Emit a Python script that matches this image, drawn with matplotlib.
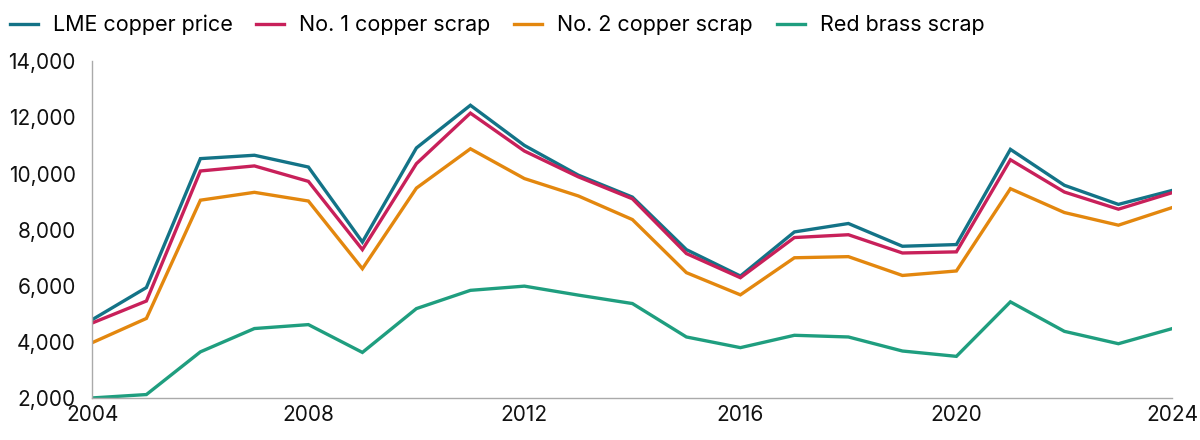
import matplotlib.pyplot as plt
from matplotlib.ticker import FuncFormatter

plt.rcParams['font.family'] = ['Inter', 'DejaVu Sans']

years = list(range(2004, 2025))
lme = [4800, 5940, 10530, 10650, 10230, 7560, 10910, 12430, 11000, 9940, 9160,
       7290, 6350, 7920, 8220, 7410, 7470, 10860, 9580, 8900, 9400]
no1 = [4680, 5460, 10090, 10270, 9720, 7290, 10350, 12150, 10800, 9880, 9100,
       7150, 6290, 7720, 7820, 7170, 7210, 10490, 9340, 8730, 9320]
no2 = [3980, 4840, 9050, 9330, 9020, 6610, 9480, 10880, 9820, 9200, 8360,
       6470, 5680, 7000, 7040, 6370, 6530, 9460, 8610, 8160, 8790]
brass = [2010, 2130, 3650, 4480, 4620, 3630, 5190, 5840, 5990, 5670, 5370,
         4180, 3800, 4240, 4180, 3680, 3490, 5430, 4380, 3940, 4480]

series = [("LME copper price", lme, "#137387"),
          ("No. 1 copper scrap", no1, "#c8205a"),
          ("No. 2 copper scrap", no2, "#e3870e"),
          ("Red brass scrap", brass, "#1f9e7f")]

fig = plt.figure(figsize=(12, 4.4), dpi=100)
ax = fig.add_axes([0.077, 0.095, 0.9, 0.766])

for name, vals, col in series:
    ax.plot(years, vals, color=col, lw=2.4, label=name, solid_joinstyle='miter')

ax.set_xlim(2004, 2024)
ax.set_ylim(2000, 14000)
ax.set_xticks([2004, 2008, 2012, 2016, 2020, 2024])
ax.set_yticks(range(2000, 14001, 2000))
ax.yaxis.set_major_formatter(FuncFormatter(lambda v, p: f"{int(v):,}"))
ax.tick_params(length=0, labelsize=15, colors='#111111')
ax.tick_params(axis='x', pad=5)
ax.tick_params(axis='y', pad=12)
for s in ['top', 'right']:
    ax.spines[s].set_visible(False)
for s in ['left', 'bottom']:
    ax.spines[s].set_color('#aaaaaa')
    ax.spines[s].set_linewidth(1.0)

fig.legend(loc='upper left', bbox_to_anchor=(-0.008, 1.01), ncol=4, frameon=False,
           fontsize=15.5, handlelength=1.3, columnspacing=1.1, handletextpad=0.7)

fig.savefig('out.png', dpi=100)
